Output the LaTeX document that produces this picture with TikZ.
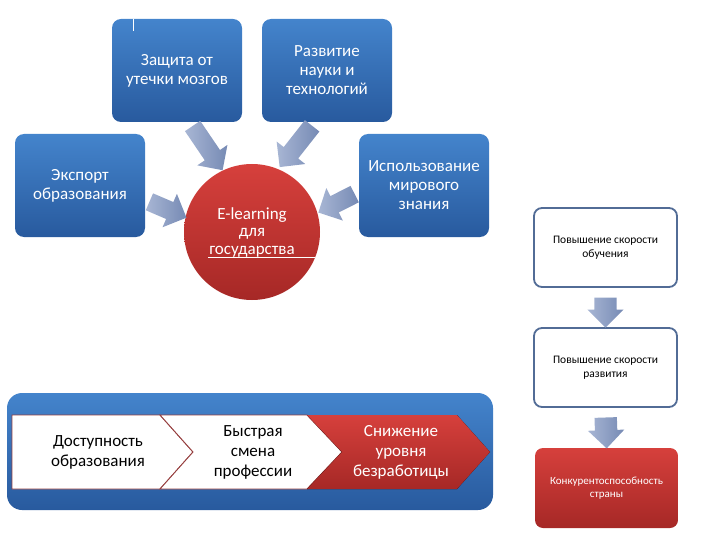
\documentclass[tikz,border=0pt]{standalone}
\usepackage{fontspec}
\setmainfont{Carlito}
\usetikzlibrary{positioning, calc, shapes.arrows}
\definecolor{boxtop}{RGB}{68,132,204}
\definecolor{boxbot}{RGB}{40,90,158}
\definecolor{redtop}{RGB}{214,64,60}
\definecolor{redbot}{RGB}{166,40,38}
\definecolor{arrowlight}{RGB}{168,182,212}
\definecolor{arrowgrey}{RGB}{118,138,180}
\definecolor{frame}{RGB}{82,108,150}
\definecolor{chevedge}{RGB}{150,62,62}

\newcommand{\fatarrow}[3][]{%
  \path let \p1=(#2), \p2=(#3), \n1={atan2(\y2-\y1,\x2-\x1)},
    \n2={veclen(\x2-\x1,\y2-\y1)} in
    node[fatarrow, #1, rotate=\n1, minimum height=\n2] at ($(\p1)!0.5!(\p2)$) {};}

\begin{document}
\begin{tikzpicture}[x=1pt, y=-1pt,
    every node/.style={align=center},
    bluebox/.style={rounded corners=9pt, top color=boxtop, bottom color=boxbot,
      text=white, minimum width=130pt, minimum height=103pt, inner sep=2pt,
      font=\fontsize{17}{19}\selectfont},
    speedbox/.style={rounded corners=8pt, draw=frame, line width=1.8pt, fill=white,
      minimum width=143pt, minimum height=79pt, font=\fontsize{11.5}{13.5}\selectfont},
    fatarrow/.style={single arrow, single arrow head extend=9pt, inner xsep=0pt,
      inner ysep=9pt, left color=arrowlight, right color=arrowgrey},
    chevtext/.style={font=\fontsize{17}{20}\selectfont}]
  \useasboundingbox (0,0) rectangle (720,540);

  % four sources round the circle
  \node[bluebox] (brain) at (177,70.5) {Защита от\\утечки мозгов};
  \node[bluebox] (science) at (327,70.5) {Развитие\\науки и\\технологий};
  \node[bluebox] (export) at (80,185.5) {Экспорт\\образования};
  \node[bluebox] (world) at (424,185.5) {Использование\\мирового\\знания};
  \draw[white, line width=0.8pt] ([xshift=22pt]brain.north west) -- ++(0,12);

  \node[circle, minimum size=136pt, top color=redtop, bottom color=redbot,
    text=white, font=\fontsize{17}{17.5}\selectfont] (elearn) at (252,232)
    {E-learning\\для\\государства};
  \draw[white, line width=0.8pt] ($(elearn.center)+(-44,25)$) -- ++(107,0);

  \fatarrow{[xshift=13pt]brain.south}{$(elearn.center)!1.07!(elearn.116)$}
  \fatarrow{[xshift=-12pt]science.south}{$(elearn.center)!1.1!(elearn.66)$}
  \fatarrow{[yshift=-14.5pt]export.east}{$(elearn.center)!1.05!(elearn.167)$}
  \fatarrow{[yshift=-6.5pt]world.west}{$(elearn.center)!1.08!(elearn.17)$}

  % right column
  \node[speedbox] (speed1) at (605.5,247.5) {Повышение скорости\\обучения};
  \node[speedbox] (speed2) at (605.5,367.5) {Повышение скорости\\развития};
  \node[rounded corners=8pt, top color=redtop, bottom color=redbot, text=white,
    minimum width=143pt, minimum height=80pt, font=\fontsize{11}{13.5}\selectfont]
    (compet) at (606.5,488) {Конкурентоспособность\\страны};
  \fatarrow[single arrow head extend=7pt, inner ysep=11pt]{[yshift=-4pt]speed1.south}{[yshift=5pt]speed2.north}
  \fatarrow[single arrow head extend=7pt, inner ysep=11pt]{[yshift=-4pt]speed2.south}{[yshift=5pt]compet.north}

  % bottom band with chevrons
  \node[rounded corners=15pt, top color=boxtop, bottom color=boxbot,
    minimum width=486pt, minimum height=117pt] (band) at (250,451.5) {};
  \filldraw[fill=white, draw=chevedge, line width=0.9pt]
    (12,415) -- (160,415) -- (193,452) -- (160,489) -- (12,489) -- cycle;
  \filldraw[fill=white, draw=chevedge, line width=0.9pt]
    (160,415) -- (307,415) -- (342,452) -- (307,489) -- (160,489) -- (193,452) -- cycle;
  \fill[top color=redtop, bottom color=redbot]
    (307,415) -- (457,415) -- (490,452) -- (457,489) -- (307,489) -- (342,452) -- cycle;
  \node[chevtext] (access) at (98,452) {Доступность\\образования};
  \node[chevtext] (jobs) at (253,452) {Быстрая\\смена\\профессии};
  \node[chevtext, text=white] (unemp) at (401,452) {Снижение\\уровня\\безработицы};
\end{tikzpicture}
\end{document}
